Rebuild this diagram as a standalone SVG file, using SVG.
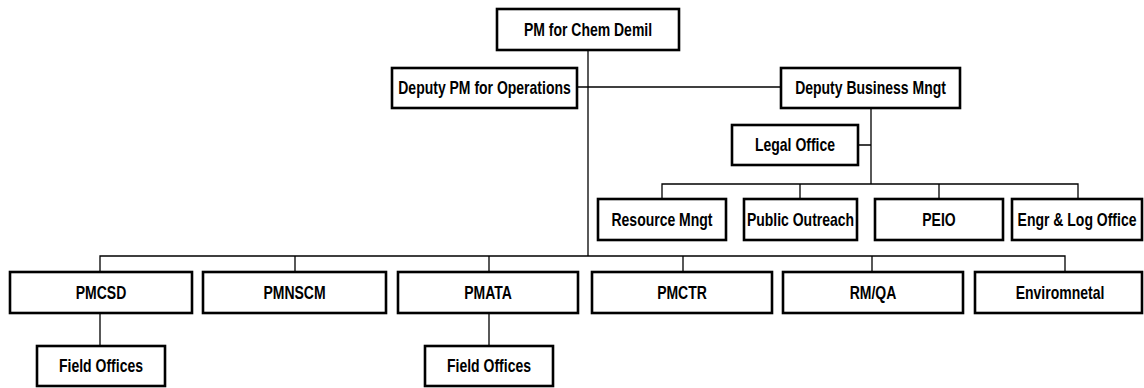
<svg xmlns="http://www.w3.org/2000/svg" width="1144" height="388" viewBox="0 0 1144 388">
<style>
.box{fill:#fff;stroke:#000;stroke-width:2.6}
.lbl{font-family:"Liberation Sans",Arial,sans-serif;font-weight:bold;font-size:17.5px;fill:#000;text-anchor:middle}
.conn{fill:none;stroke:#000;stroke-width:1.3}
</style>
<rect width="1144" height="388" fill="#fff"/>
<g id="connectors">
<path class="conn" d="M588 50V256"/>
<path class="conn" d="M577 87H781"/>
<path class="conn" d="M871 108V184M858 145H871"/>
<path class="conn" d="M662 199V184H1078V199M800 184V199M939 184V199"/>
<path class="conn" d="M100 272V256H1065V272M295 256V272M489 256V272M683 256V272M872 256V272"/>
<path class="conn" d="M100 313V346M489 313V346"/>
</g>
<g id="pm-chem-demil"><rect class="box" x="497" y="9" width="182" height="41"/><text class="lbl" transform="translate(588 29.5) scale(0.8 1)" y="6.3">PM for Chem Demil</text></g>
<g id="deputy-pm-ops"><rect class="box" x="392" y="68" width="185" height="40"/><text class="lbl" transform="translate(484.5 88) scale(0.8 1)" y="6.3">Deputy PM for Operations</text></g>
<g id="deputy-business"><rect class="box" x="781" y="68" width="179" height="40"/><text class="lbl" transform="translate(870.5 88) scale(0.8 1)" y="6.3">Deputy Business Mngt</text></g>
<g id="legal-office"><rect class="box" x="732" y="125" width="126" height="40"/><text class="lbl" transform="translate(795 145) scale(0.8 1)" y="6.3">Legal Office</text></g>
<g id="resource-mngt"><rect class="box" x="598" y="199" width="128" height="41"/><text class="lbl" transform="translate(662 219.5) scale(0.8 1)" y="6.3">Resource Mngt</text></g>
<g id="public-outreach"><rect class="box" x="744" y="199" width="113" height="41"/><text class="lbl" transform="translate(800.5 219.5) scale(0.8 1)" y="6.3">Public Outreach</text></g>
<g id="peio"><rect class="box" x="875" y="199" width="128" height="41"/><text class="lbl" transform="translate(939 219.5) scale(0.8 1)" y="6.3">PEIO</text></g>
<g id="engr-log-office"><rect class="box" x="1012" y="199" width="130" height="41"/><text class="lbl" transform="translate(1077 219.5) scale(0.8 1)" y="6.3">Engr &amp; Log Office</text></g>
<g id="pmcsd"><rect class="box" x="10" y="272" width="182" height="41"/><text class="lbl" transform="translate(101 292.5) scale(0.8 1)" y="6.3">PMCSD</text></g>
<g id="pmnscm"><rect class="box" x="203" y="272" width="183" height="41"/><text class="lbl" transform="translate(294.5 292.5) scale(0.8 1)" y="6.3">PMNSCM</text></g>
<g id="pmata"><rect class="box" x="398" y="272" width="180" height="41"/><text class="lbl" transform="translate(488 292.5) scale(0.8 1)" y="6.3">PMATA</text></g>
<g id="pmctr"><rect class="box" x="592" y="272" width="180" height="41"/><text class="lbl" transform="translate(682 292.5) scale(0.8 1)" y="6.3">PMCTR</text></g>
<g id="rmqa"><rect class="box" x="783" y="272" width="180" height="41"/><text class="lbl" transform="translate(873 292.5) scale(0.8 1)" y="6.3">RM/QA</text></g>
<g id="environmental"><rect class="box" x="975" y="272" width="167" height="41"/><text class="lbl" transform="translate(1060 292.5) scale(0.8 1)" y="6.3">Enviromnetal</text></g>
<g id="field-offices-1"><rect class="box" x="37" y="346" width="128" height="40"/><text class="lbl" transform="translate(101 366) scale(0.8 1)" y="6.3">Field Offices</text></g>
<g id="field-offices-2"><rect class="box" x="425" y="346" width="128" height="40"/><text class="lbl" transform="translate(489 366) scale(0.8 1)" y="6.3">Field Offices</text></g>
</svg>
